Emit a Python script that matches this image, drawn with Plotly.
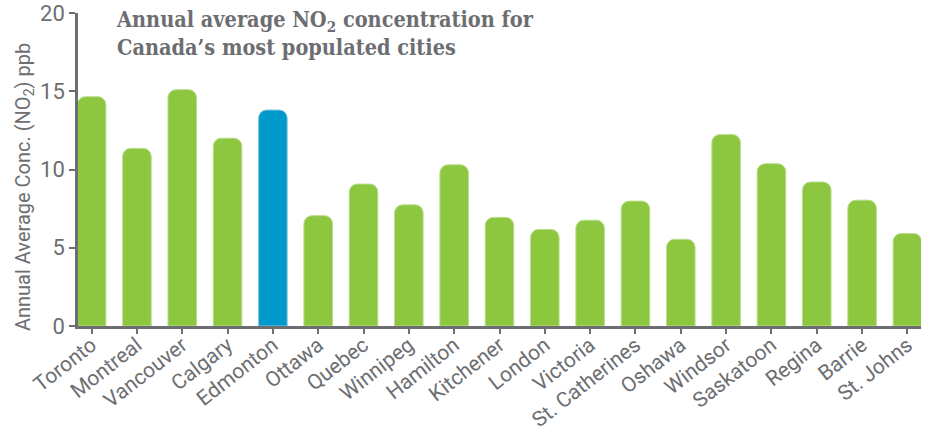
import plotly.graph_objects as go

cities = ["Toronto", "Montreal", "Vancouver", "Calgary", "Edmonton", "Ottawa", "Quebec",
          "Winnipeg", "Hamilton", "Kitchener", "London", "Victoria", "St. Catherines",
          "Oshawa", "Windsor", "Saskatoon", "Regina", "Barrie", "St. Johns"]
no2_ppb = [14.65, 11.35, 15.1, 12.0, 13.8, 7.05, 9.07, 7.74, 10.3, 6.94, 6.17, 6.76,
           7.98, 5.54, 12.23, 10.37, 9.2, 8.04, 5.91]
highlight = "Edmonton"
y_ticks = [0, 5, 10, 15, 20]
title_text = "<b>Annual average NO<sub>2</sub> concentration for<br>Canada’s most populated cities</b>"
y_title = "Annual Average Conc. (NO<sub>2</sub>) ppb"

green = "#8dc63f"
blue = "#0099cc"
gray = "#6d6e71"

colors = [blue if c == highlight else green for c in cities]
lines = ["#80c4e0" if c == highlight else "#b9de8c" for c in cities]

fig = go.Figure(go.Bar(
    x=cities, y=no2_ppb,
    marker=dict(color=colors, line=dict(color=lines, width=1), cornerradius=8),
    width=0.63,
))

fig.update_layout(
    width=929, height=427,
    margin=dict(l=78, r=8, t=13, b=101),
    paper_bgcolor="white", plot_bgcolor="white",
    showlegend=False,
    font=dict(family="Roboto, Liberation Sans, sans-serif", color=gray),
)
fig.update_xaxes(
    range=[-0.3, 18.3], automargin=False,
    showline=True, linecolor=gray, linewidth=2.5,
    ticks="outside", ticklen=5, tickwidth=2, tickcolor=gray,
    tickangle=-38, tickfont=dict(size=21, color=gray),
    ticklabeloverflow="allow", ticklabelstandoff=-9,
    showgrid=False,
)
fig.update_yaxes(
    range=[0, 20], tickvals=y_ticks, automargin=False,
    showline=True, linecolor=gray, linewidth=2.5,
    ticks="outside", ticklen=6, tickwidth=2, tickcolor=gray,
    tickfont=dict(size=22, color=gray),
    ticklabeloverflow="allow",
    showgrid=False, zeroline=False,
)
fig.add_annotation(
    text=y_title, textangle=-90,
    xref="paper", yref="paper", x=-0.064, y=0.444, xanchor="center", yanchor="middle",
    showarrow=False, font=dict(size=20, color=gray),
)
fig.add_annotation(
    text=title_text,
    xref="paper", yref="paper", x=0.043, y=1.027, xanchor="left", yanchor="top",
    align="left", showarrow=False,
    font=dict(family="DejaVu Serif Condensed, DejaVu Serif, serif", size=21.5, color=gray),
)

fig.write_html("out.html", post_script="document.body.style.margin='0';",
               config={"displayModeBar": False})
